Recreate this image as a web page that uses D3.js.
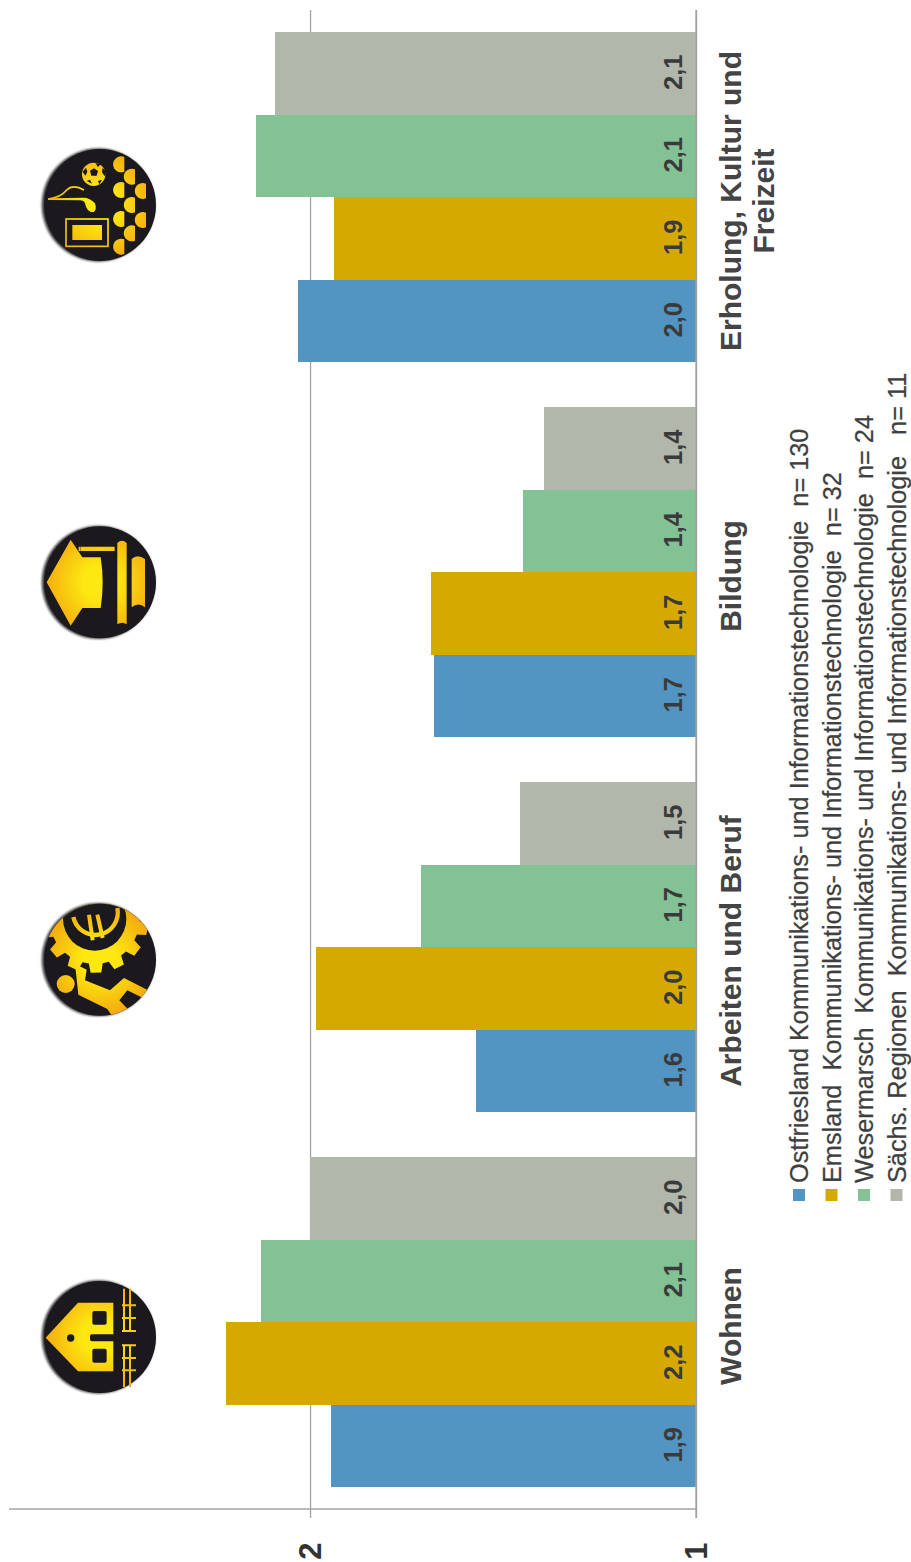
<!DOCTYPE html>
<html lang="de">
<head>
<meta charset="utf-8">
<title>Kommunikations- und Informationstechnologie</title>
<script src="https://cdn.jsdelivr.net/npm/d3@7/dist/d3.min.js"></script>
<style>
  html, body { margin: 0; padding: 0; background: #fff; }
  svg { display: block; }
  text { font-family: "Liberation Sans", Arial, sans-serif; }
</style>
</head>
<body>
<div id="chart"></div>
<script>
// Ratings per life domain, one array per region (same order as the categories).
const categories = ["Wohnen", "Arbeiten und Beruf", "Bildung", "Erholung, Kultur und|Freizeit"];
const seriesNames = ["Ostfriesland", "Emsland", "Wesermarsch", "Sächs. Regionen"];
const ostfriesland = [1.946, 1.57, 1.68, 2.03];
const emsland = [2.218, 1.985, 1.687, 1.938];
const wesermarsch = [2.127, 1.712, 1.449, 2.14];
const saechsRegionen = [2.0, 1.455, 1.394, 2.09];
const seriesValues = [ostfriesland, emsland, wesermarsch, saechsRegionen];
const seriesColors = ["#5294c2", "#d6a900", "#82c294", "#b1b7ab"];
const legendLabels = [
  "Ostfriesland Kommunikations- und Informationstechnologie  n= 130",
  "Emsland  Kommunikations- und Informationstechnologie  n= 32",
  "Wesermarsch  Kommunikations- und Informationstechnologie  n= 24",
  "Sächs. Regionen  Kommunikations- und Informationstechnologie   n= 11"
];
const axisTicks = [1, 2];

const width = 911, height = 1562;
const svg = d3.select("#chart").append("svg").attr("width", width).attr("height", height);
const defs = svg.append("defs");

// The whole chart reads sideways: values grow to the left, categories upward.
const x = d3.scaleLinear().domain([1, 2.78]).range([696, 9]);
const y = d3.scaleBand().domain(categories).range([1509.5, 9.5]).paddingInner(0.12).paddingOuter(0.06);
const yInner = d3.scaleBand().domain(d3.range(seriesNames.length)).range([y.bandwidth(), 0]);
const sideways = (px, py) => `translate(${px},${py}) rotate(-90)`;
const decimal = v => d3.format(".1f")(v).replace(".", ",");

// Value axis: long ticks act as gridlines behind the bars.
const axisG = svg.append("g")
  .attr("transform", "translate(0,1518)")
  .call(d3.axisBottom(x).tickValues(axisTicks).tickSize(-1508).tickFormat(d3.format("d")));
axisG.select(".domain").remove();
axisG.selectAll(".tick line").attr("stroke", "#a3a3a3").attr("stroke-width", 1.3);
axisG.selectAll(".tick text")
  .attr("x", 0).attr("y", 0).attr("dy", null)
  .attr("transform", "translate(10,33) rotate(-90)")
  .attr("text-anchor", "middle")
  .attr("font-size", 31).attr("font-weight", "bold").attr("fill", "#333");

// Baseline of the category axis.
svg.append("line")
  .attr("x1", x.range()[1]).attr("x2", x.range()[0])
  .attr("y1", 1509).attr("y2", 1509)
  .attr("stroke", "#a3a3a3").attr("stroke-width", 1.5);

// Bars and value labels.
const groups = svg.selectAll("g.category").data(categories).join("g")
  .attr("class", "category")
  .attr("transform", d => `translate(0,${y(d)})`);

seriesValues.forEach((values, s) => {
  groups.append("rect")
    .attr("x", (d, i) => x(values[i]))
    .attr("y", yInner(s))
    .attr("width", (d, i) => x(1) - x(values[i]))
    .attr("height", yInner.bandwidth())
    .attr("fill", seriesColors[s])
    .attr("shape-rendering", "crispEdges");
});
seriesValues.forEach((values, s) => {
  groups.append("text")
    .attr("transform", sideways(682, yInner(s) + yInner.bandwidth() / 2 - 1))
    .attr("text-anchor", "middle")
    .attr("font-size", 25.5).attr("font-weight", "bold").attr("fill", "#3a3a3a")
    .text((d, i) => decimal(values[i]));
});

// Redraw the zero line of the bars on top.
svg.append("line")
  .attr("x1", x(1)).attr("x2", x(1)).attr("y1", 10).attr("y2", 1518)
  .attr("stroke", "#a3a3a3").attr("stroke-width", 1.3);

// Category names, one or two lines.
const catAxis = svg.append("g")
  .attr("transform", "translate(741,0)")
  .call(d3.axisRight(y).tickSize(0).tickFormat(""));
catAxis.select(".domain").remove();
catAxis.selectAll(".tick text").remove();
catAxis.selectAll(".tick").append("text")
  .attr("transform", "translate(0,4) rotate(-90)")
  .attr("text-anchor", "middle")
  .attr("font-size", 30).attr("font-weight", "bold").attr("fill", "#444")
  .each(function (d) {
    d.split("|").forEach((line, i) => {
      d3.select(this).append("tspan")
        .attr("x", 0).attr("dy", i ? 33 : 0).text(line);
    });
  });

// Legend, stacked sideways under the category names.
const legendScale = d3.scalePoint().domain(d3.range(legendLabels.length)).range([808, 905.5]);
legendLabels.forEach((label, i) => {
  const bx = legendScale(i);
  svg.append("rect")
    .attr("x", bx - 15).attr("y", 1189).attr("width", 12).attr("height", 12)
    .attr("fill", seriesColors[i]);
  svg.append("text")
    .attr("transform", sideways(bx, 1183))
    .attr("font-size", 25.3).attr("fill", "#3f3f3f")
    .attr("stroke", "#3f3f3f").attr("stroke-width", 0.25)
    .style("white-space", "pre")
    .text(label);
});

// Round pictograms above each category, drawn in a 3x grid around their centre.
const glow = defs.append("radialGradient").attr("id", "iconYellow")
  .attr("gradientUnits", "userSpaceOnUse")
  .attr("cx", 0).attr("cy", 0).attr("r", 170);
glow.append("stop").attr("offset", "0.3").attr("stop-color", "#fde812");
glow.append("stop").attr("offset", "1").attr("stop-color", "#f4a90f");
defs.append("filter").attr("id", "iconEdge").attr("x", "-20%").attr("y", "-20%").attr("width", "140%").attr("height", "140%")
  .append("feGaussianBlur").attr("stdDeviation", 3);
defs.append("clipPath").attr("id", "iconClip").append("circle").attr("r", 168);

const Y = "url(#iconYellow)", DARK = "#1b191e";

function iconHouse(g) {
  g.append("path").attr("fill", Y)
    .attr("d", "M-163,2 L-66,-103 L40,-103 L40,103 L-66,103 Z");
  g.append("rect").attr("x", -23).attr("y", -78).attr("width", 43).attr("height", 41).attr("rx", 6).attr("fill", DARK);
  g.append("rect").attr("x", -23).attr("y", 35).attr("width", 43).attr("height", 42).attr("rx", 6).attr("fill", DARK);
  g.append("circle").attr("cx", -88).attr("cy", 3).attr("r", 11).attr("fill", DARK);
  g.append("rect").attr("x", -30).attr("y", -8).attr("width", 100).attr("height", 21).attr("rx", 6).attr("fill", DARK);
  const fence = "M72,-145 V-15 M90,-145 V-15 M66,-95 H108 M66,-57 H108 M66,-18 H108 M72,22 V150 M90,22 V150 M66,25 H108 M66,63 H108 M66,100 H108";
  g.append("path").attr("d", fence).attr("fill", "none").attr("stroke", Y).attr("stroke-width", 6);
}

function iconWork(g) {
  const inner = g.append("g").attr("clip-path", "url(#iconClip)");
  // gear with teeth around the euro sign
  const gcx = -16, gcy = -122, teeth = 14, pts = [];
  for (let i = 0; i < teeth; i++) {
    const a = (i / teeth) * 2 * Math.PI;
    const w = Math.PI / teeth * 0.55;
    [[135, -w * 1.25], [162, -w * 0.8], [162, w * 0.8], [135, w * 1.25]].forEach(([r, da]) => {
      pts.push([gcx + r * Math.cos(a + da + 0.2), gcy + r * Math.sin(a + da + 0.2)]);
    });
  }
  inner.append("path").attr("fill", Y).attr("d", d3.line()(pts) + "Z");
  inner.append("circle").attr("cx", gcx).attr("cy", gcy).attr("r", 95).attr("fill", DARK);
  inner.append("path").attr("fill", "none").attr("stroke", Y).attr("stroke-width", 13)
    .attr("d", "M-80,-128 A66,66 0 0,0 52,-155");
  inner.append("path").attr("fill", "none").attr("stroke", Y).attr("stroke-width", 12)
    .attr("d", "M-33,-135 L-22,-58 M-8,-135 L8,-65");
  // running figure
  inner.append("circle").attr("cx", -103).attr("cy", 73).attr("r", 27).attr("fill", Y);
  inner.append("path").attr("fill", Y)
    .attr("d", "M-75,12 L-40,30 L-45,62 L30,92 L72,55 L150,95 L135,118 L82,92 L58,122 L90,155 L40,175 L22,148 L-65,105 Z");
}

function iconStudy(g) {
  g.append("path").attr("fill", Y)
    .attr("d", "M-160,0 L-88,-128 L-53,-75 L2,-75 Q14,0 2,77 L-53,77 L-88,130 Z");
  g.append("path").attr("fill", Y)
    .attr("d", "M-58,-107 H44 V-94 H-58 Z M-64,-107 h5 v13 h-5 Z");
  g.append("path").attr("fill", Y)
    .attr("d", "M52,-118 Q66,-132 80,-118 V126 Q66,116 52,126 Z");
  g.append("path").attr("fill", Y)
    .attr("d", "M95,-70 Q112,-86 135,-70 V75 Q115,58 95,75 Z");
}

function iconLeisure(g) {
  // football
  g.append("circle").attr("cx", -19).attr("cy", -92).attr("r", 35).attr("fill", Y);
  g.append("path").attr("fill", DARK)
    .attr("d", "M-30,-103 L-18,-110 L-6,-102 L-10,-88 L-26,-88 Z M-52,-100 L-42,-112 L-38,-100 L-44,-88 Z M-14,-126 L2,-122 L-6,-114 Z M18,-100 L8,-112 L6,-98 L14,-86 Z M-40,-72 L-30,-76 L-24,-64 Z M-6,-72 L6,-76 L-2,-62 Z");
  // audience, a lattice of half discs
  const seats = [[57, -122], [89, -85], [57, -45], [122, -42], [89, 0], [57, 42], [122, 45], [89, 85], [57, 125]];
  g.selectAll("path.seat").data(seats).join("path").attr("class", "seat").attr("fill", Y)
    .attr("d", d => `M${d[0] + 16},${d[1] - 22} A24,24 0 1,0 ${d[0] + 16},${d[1] + 22} Z`);
  // sun lounger
  g.append("path").attr("fill", "none").attr("stroke", Y).attr("stroke-width", 5)
    .attr("d", "M-156,-18 C-125,-22 -110,-32 -100,-45 C-85,-60 -65,-55 -48,-45");
  g.append("path").attr("fill", Y)
    .attr("d", "M-156,-20 L-50,-22 Q-30,-22 -15,-5 Q-8,15 -20,22 Q-40,22 -45,-5 Q-48,-14 -60,-14 L-156,-15 Z");
  // television
  g.append("rect").attr("x", -102).attr("y", 42).attr("width", 126).attr("height", 82).attr("fill", "none").attr("stroke", Y).attr("stroke-width", 5);
  g.append("rect").attr("x", -83).attr("y", 60).attr("width", 89).attr("height", 45).attr("fill", Y);
}

const icons = [iconHouse, iconWork, iconStudy, iconLeisure];
const iconCentre = d3.scaleLinear().domain([0, 3]).range([1337, 205]);
icons.forEach((draw, i) => {
  const g = svg.append("g").attr("transform", `translate(100,${iconCentre(i)}) scale(${1 / 3})`);
  g.append("circle").attr("cx", -5).attr("r", 170).attr("fill", "#444").attr("filter", "url(#iconEdge)");
  g.append("circle").attr("r", 168).attr("fill", DARK);
  draw(g);
});
</script>
</body>
</html>
